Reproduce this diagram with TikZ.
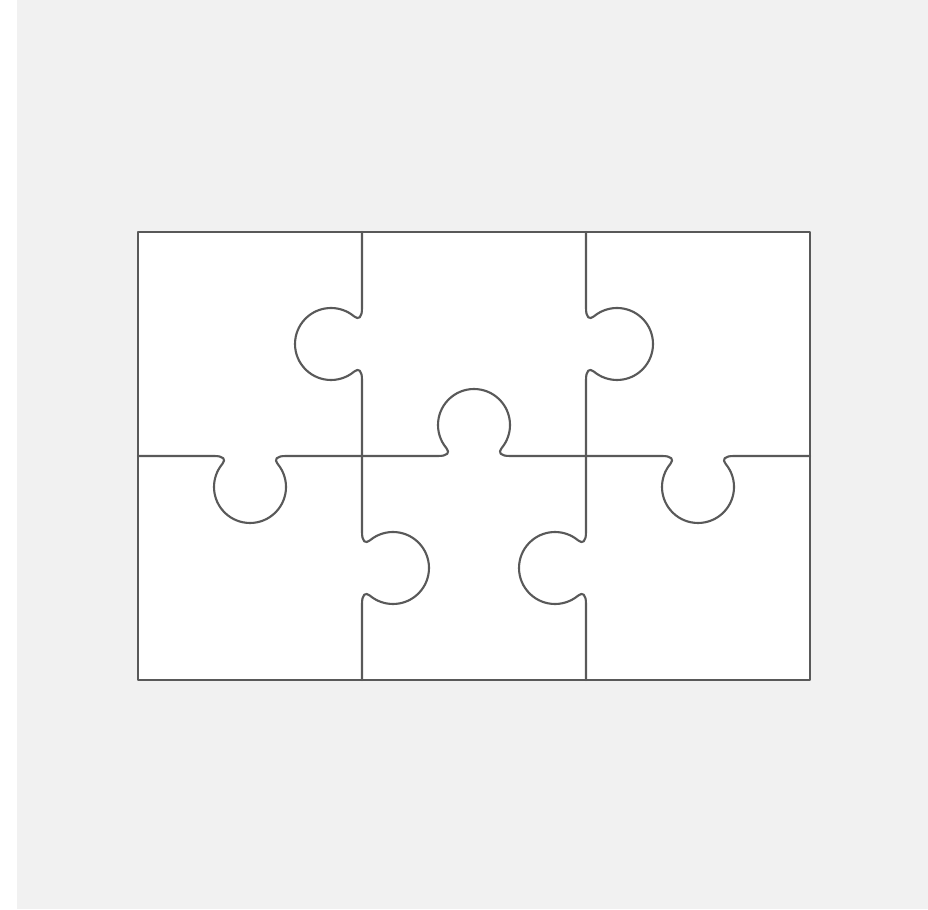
\documentclass[tikz,border=0pt]{standalone}
\usepackage{tikz}
\begin{document}
\begin{tikzpicture}
% Jigsaw board, units are pixels of the sheet
\def\pxsz{0.02cm}
\providecommand{\jigPageColor}{black!5.5}
\providecommand{\jigPieceColor}{white}
\providecommand{\jigLineColor}{black!65}
\providecommand{\jigLineWidth}{1.2pt}
% one side of a piece, 224 long, knob pointing to +y
\def\jigEdge{(0,0) -- (76,0) .. controls (86,0) and (88.1,3.4) .. (84.3,8)
  arc[start angle=219.7, end angle=-39.7, radius=36]
  .. controls (135.9,3.4) and (138,0) .. (148,0) -- (224,0)}
\begin{scope}[x=\pxsz, y=\pxsz, line cap=round, line join=round]
  \useasboundingbox (0,0) rectangle (928,909);
  % Page
  \fill[\jigPageColor] (17,0) rectangle (928,909);
  % Board
  \fill[\jigPieceColor] (138,229) rectangle (810,677);
  \begin{scope}[draw=\jigLineColor, line width=\jigLineWidth]
    % Outline
    \draw (138,229) rectangle (810,677);
    % Vertical sides, upper row
    \draw[shift={(362,453)}, rotate=90] \jigEdge;
    \draw[shift={(586,677)}, rotate=-90] \jigEdge;
    % Vertical sides, lower row
    \draw[shift={(362,453)}, rotate=-90] \jigEdge;
    \draw[shift={(586,229)}, rotate=90] \jigEdge;
    % Horizontal sides
    \draw[shift={(362,453)}, rotate=180] \jigEdge;
    \draw[shift={(362,453)}] \jigEdge;
    \draw[shift={(810,453)}, rotate=180] \jigEdge;
  \end{scope}
\end{scope}
\end{tikzpicture}
\end{document}
